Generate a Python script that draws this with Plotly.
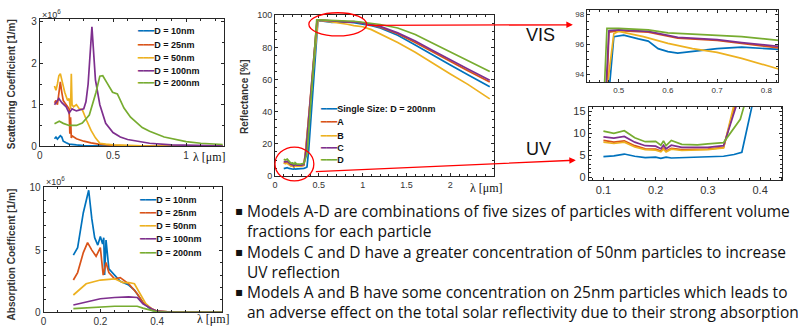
import plotly.graph_objects as go

W, H = 798, 332

# ---------------- data ----------------
colors5 = ["#0072BD", "#D95319", "#EDB120", "#7E2F8E", "#77AC30"]
size_labels = ["D = 10nm", "D = 25nm", "D = 50nm", "D = 100nm", "D = 200nm"]
model_labels = ["Single Size: D = 200nm", "A", "B", "C", "D"]

# Scattering coefficient (units of 1e6 1/m)
sca_x_10 = [0.10, 0.11, 0.12, 0.13, 0.14, 0.15, 0.16, 0.18, 0.20, 0.25, 0.30, 0.40, 0.60, 1.25]
sca_y_10 = [0.18, 0.22, 0.17, 0.20, 0.25, 0.22, 0.12, 0.08, 0.05, 0.03, 0.015, 0.008, 0.003, 0.0]
sca_x_25 = [0.10, 0.11, 0.12, 0.13, 0.14, 0.15, 0.16, 0.17, 0.18, 0.19, 0.20, 0.205, 0.21, 0.215, 0.22, 0.25, 0.30, 0.35, 0.40, 0.50, 0.60, 1.25]
sca_y_25 = [1.05, 1.10, 1.00, 1.30, 1.55, 1.30, 1.10, 1.05, 1.00, 0.95, 0.90, 0.30, 0.70, 0.20, 0.25, 0.18, 0.12, 0.08, 0.05, 0.02, 0.01, 0.002]
sca_x_50 = [0.10, 0.11, 0.12, 0.13, 0.14, 0.15, 0.16, 0.17, 0.18, 0.19, 0.20, 0.21, 0.215, 0.22, 0.23, 0.25, 0.27, 0.29, 0.32, 0.35, 0.38, 0.41, 0.45, 0.50, 0.70, 1.25]
sca_y_50 = [1.45, 1.35, 1.50, 1.70, 1.75, 1.60, 1.40, 1.30, 1.20, 1.10, 1.15, 0.90, 1.75, 1.00, 0.95, 1.00, 0.90, 0.88, 0.62, 0.38, 0.20, 0.07, 0.05, 0.03, 0.01, 0.002]
sca_x_100 = [0.10, 0.12, 0.13, 0.15, 0.18, 0.20, 0.22, 0.25, 0.28, 0.30, 0.315, 0.33, 0.356, 0.38, 0.41, 0.45, 0.50, 0.55, 0.60, 0.66, 0.75, 0.90, 1.05, 1.25]
sca_y_100 = [1.00, 1.10, 1.15, 1.05, 0.95, 0.80, 0.90, 0.85, 0.88, 0.90, 1.07, 1.50, 2.88, 1.60, 1.00, 0.55, 0.33, 0.22, 0.16, 0.12, 0.07, 0.03, 0.015, 0.008]
sca_x_200 = [0.10, 0.133, 0.16, 0.20, 0.25, 0.29, 0.338, 0.384, 0.41, 0.43, 0.46, 0.497, 0.53, 0.575, 0.62, 0.65, 0.70, 0.75, 0.85, 1.00, 1.10, 1.25]
sca_y_200 = [0.54, 0.60, 0.55, 0.50, 0.50, 0.56, 0.75, 1.30, 1.69, 1.70, 1.52, 1.30, 1.26, 0.92, 0.70, 0.60, 0.45, 0.36, 0.22, 0.11, 0.07, 0.04]

# Absorption coefficient (units of 1e6 1/m)
abs_x_10 = [0.105, 0.12, 0.14, 0.159, 0.17, 0.18, 0.191, 0.20, 0.208, 0.212, 0.215, 0.22, 0.23, 0.25, 0.27, 0.30, 0.32, 0.35, 0.38, 0.40, 0.50, 0.63]
abs_y_10 = [4.6, 5.2, 8.0, 9.8, 7.5, 6.0, 5.4, 6.1, 5.5, 6.0, 3.0, 5.8, 3.5, 3.0, 2.5, 2.2, 1.8, 0.8, 0.2, 0.05, 0.0, 0.0]
abs_x_25 = [0.105, 0.12, 0.14, 0.155, 0.17, 0.185, 0.20, 0.21, 0.22, 0.23, 0.25, 0.27, 0.30, 0.33, 0.35, 0.38, 0.40, 0.45, 0.63]
abs_y_25 = [2.6, 3.2, 4.8, 5.6, 5.0, 4.5, 5.2, 3.0, 4.0, 3.2, 2.7, 2.8, 2.3, 1.5, 0.8, 0.3, 0.1, 0.02, 0.0]
abs_x_50 = [0.105, 0.12, 0.15, 0.20, 0.25, 0.28, 0.30, 0.32, 0.34, 0.36, 0.38, 0.40, 0.45, 0.63]
abs_y_50 = [1.4, 1.7, 2.3, 2.6, 2.7, 2.4, 2.4, 2.3, 1.5, 0.7, 0.3, 0.1, 0.02, 0.0]
abs_x_100 = [0.105, 0.15, 0.20, 0.25, 0.30, 0.33, 0.35, 0.38, 0.40, 0.45, 0.63]
abs_y_100 = [0.6, 0.85, 1.1, 1.2, 1.25, 1.2, 0.7, 0.3, 0.1, 0.02, 0.0]
abs_x_200 = [0.105, 0.15, 0.20, 0.25, 0.30, 0.33, 0.35, 0.38, 0.40, 0.45, 0.63]
abs_y_200 = [0.3, 0.35, 0.45, 0.5, 0.5, 0.5, 0.35, 0.15, 0.05, 0.01, 0.0]

# Reflectance [%]
uv_x = [0.10, 0.12, 0.14, 0.16, 0.18, 0.20, 0.21, 0.215, 0.22, 0.23, 0.25, 0.30, 0.33]
ref_x_single = uv_x[:6] + [0.21, 0.22, 0.23, 0.26, 0.30, 0.33, 0.35, 0.365, 0.385, 0.478, 0.49, 0.51, 0.54, 0.56, 0.58, 0.60, 0.62, 0.65, 0.70, 0.75, 0.825, 0.9, 1.0, 1.1, 1.2, 1.4, 1.6, 1.8, 2.0, 2.2, 2.45]
ref_y_single = [4.7, 4.9, 5.3, 4.8, 4.5, 4.6, 4.3, 4.6, 4.4, 4.5, 4.6, 4.8, 5.2, 5.7, 16.5, 92.0, 96.5, 96.6, 96.35, 96.2, 95.7, 95.5, 95.4, 95.5, 95.7, 95.8, 95.65, 95.3, 94.5, 93.5, 92.0, 87.5, 81.5, 75.0, 69.0, 63.0, 55.5]
ref_x_A = uv_x + [0.352, 0.476, 0.48, 0.50, 0.56, 0.62, 0.70, 0.75, 0.825, 0.9, 1.0, 1.1, 1.2, 1.4, 1.6, 1.8, 2.0, 2.2, 2.45]
ref_y_A = [8.4, 8.0, 8.3, 7.2, 6.5, 6.4, 6.0, 6.6, 6.0, 6.6, 6.3, 6.4, 6.8, 16.5, 93.0, 96.8, 96.9, 96.8, 96.4, 96.25, 96.05, 95.75, 95.9, 95.0, 94.0, 92.5, 88.5, 83.0, 77.0, 71.0, 65.5, 58.5]
ref_x_B = uv_x + [0.35, 0.476, 0.49, 0.50, 0.55, 0.60, 0.65, 0.70, 0.75, 0.80, 0.825, 0.9, 1.0, 1.1, 1.2, 1.4, 1.6, 1.8, 2.0, 2.2, 2.45]
ref_y_B = [8.0, 7.7, 8.0, 6.9, 6.3, 6.2, 5.8, 6.4, 5.8, 6.4, 6.1, 6.3, 6.7, 16.5, 93.0, 96.7, 96.85, 96.5, 96.05, 95.7, 95.45, 95.05, 94.6, 94.35, 93.5, 92.8, 91.0, 88.5, 83.0, 77.0, 70.0, 63.5, 57.0, 48.0]
ref_x_C = uv_x + [0.355, 0.475, 0.48, 0.50, 0.56, 0.62, 0.70, 0.75, 0.825, 0.9, 1.0, 1.1, 1.2, 1.4, 1.6, 1.8, 2.0, 2.2, 2.45]
ref_y_C = [9.2, 8.9, 9.3, 8.0, 7.2, 7.1, 6.5, 7.3, 6.5, 7.3, 6.8, 6.8, 7.2, 16.5, 93.0, 96.9, 96.95, 96.85, 96.45, 96.3, 96.1, 95.85, 96.0, 95.2, 94.3, 93.0, 89.0, 84.0, 78.0, 72.0, 66.5, 59.5]
ref_x_D = uv_x[:11] + [0.28, 0.30, 0.33, 0.362, 0.37, 0.472, 0.476, 0.50, 0.56, 0.60, 0.70, 0.75, 0.825, 0.9, 1.0, 1.1, 1.2, 1.4, 1.6, 1.8, 2.0, 2.2, 2.45]
ref_y_D = [10.5, 10.0, 10.6, 9.0, 8.1, 8.2, 7.3, 8.3, 7.2, 8.4, 7.5, 7.4, 7.6, 7.9, 13.2, 16.5, 93.5, 97.05, 97.05, 96.95, 96.75, 96.6, 96.5, 96.25, 96.2, 95.6, 95.0, 94.2, 92.0, 88.0, 82.5, 77.0, 71.5, 65.0]

sca_series = [(sca_x_10, sca_y_10), (sca_x_25, sca_y_25), (sca_x_50, sca_y_50), (sca_x_100, sca_y_100), (sca_x_200, sca_y_200)]
abs_series = [(abs_x_10, abs_y_10), (abs_x_25, abs_y_25), (abs_x_50, abs_y_50), (abs_x_100, abs_y_100), (abs_x_200, abs_y_200)]
ref_series = [(ref_x_single, ref_y_single), (ref_x_A, ref_y_A), (ref_x_B, ref_y_B), (ref_x_C, ref_y_C), (ref_x_D, ref_y_D)]

bullets = [
    ("Models A-D are combinations of five sizes of particles with different volume", True),
    ("fractions for each particle", False),
    ("Models C and D have a greater concentration of 50nm particles to increase", True),
    ("UV reflection", False),
    ("Models A and B have some concentration on 25nm particles which leads to", True),
    ("an adverse effect on the total solar reflectivity due to their strong absorption", False),
]

# ---------------- helpers ----------------
def xd(l, r):
    return [l / W, r / W]

def yd(t, b):
    return [1 - b / H, 1 - t / H]

def px(x):
    return x / W

def py(y):
    return 1 - y / H

fig = go.Figure()

panels = [
    ("sca", "x", "y", sca_series, xd(37, 222), yd(14, 146), [0, 1.26], [0, 3.08], [0, 0.5, 1], [0, 1, 2, 3], 10),
    ("abs", "x2", "y2", abs_series, xd(40.7, 220), yd(188, 318), [0, 0.629], [0, 10.08], [0, 0.2, 0.4], [0, 5, 10], 10),
    ("ref", "x3", "y3", ref_series, xd(273, 493), yd(10.5, 177), [0, 2.5], [0, 100], [0, 0.5, 1, 1.5, 2], [0, 20, 40, 60, 80, 100], 9),
    ("vis", "x4", "y4", ref_series, xd(586, 778), yd(5, 80), [0.435, 0.824], [93.46, 98.28], [0.5, 0.6, 0.7, 0.8], [94, 96, 98], 8),
    ("uv", "x5", "y5", ref_series, xd(588, 782), yd(105, 181), [0.072, 0.442], [-0.6, 16.1], [0.1, 0.2, 0.3, 0.4], [0, 5, 10, 15], 11),
]

minor_dt = {"sca": (0.1, 0.5), "abs": (0.05, 1), "ref": (0.1, 5), "vis": (0.02, 0.5), "uv": (0.02, 1)}

for name, xa, ya, series, xdom, ydom, xr, yr, xt, yt, fs in panels:
    for (xs, ys), c in zip(series, colors5):
        fig.add_trace(go.Scatter(x=xs, y=ys, mode="lines", line=dict(color=c, width=1.7),
                                 xaxis=xa, yaxis=ya, showlegend=False, hoverinfo="skip"))
    xk = "xaxis" if xa == "x" else "xaxis" + xa[1:]
    yk = "yaxis" if ya == "y" else "yaxis" + ya[1:]
    mdx, mdy = minor_dt[name]
    common = dict(showline=True, linecolor="#262626", linewidth=1, mirror="ticks", ticks="inside",
                  ticklen=3, tickcolor="#262626", showgrid=False, zeroline=False,
                  tickfont=dict(family="Liberation Sans", size=fs, color="#333333"))
    fig.update_layout(**{
        xk: dict(domain=xdom, range=xr, tickvals=xt, anchor=ya,
                 minor=dict(ticks="inside", ticklen=2, dtick=mdx, tickcolor="#262626"), **common),
        yk: dict(domain=ydom, range=yr, tickvals=yt, anchor=xa,
                 minor=dict(ticks="inside", ticklen=2, dtick=mdy, tickcolor="#262626"), **common),
    })

ann = []
def add_text(x, y, text, size=10, family="Liberation Sans", color="#222222", xanchor="left",
             yanchor="middle", textangle=0, bold=False):
    t = "<b>" + text + "</b>" if bold else text
    ann.append(dict(x=px(x), y=py(y), xref="paper", yref="paper", text=t, showarrow=False,
                    xanchor=xanchor, yanchor=yanchor, textangle=textangle,
                    font=dict(family=family, size=size, color=color)))

# axis titles
add_text(8, 82, "Scattering Coefficient [1/m]", size=10, xanchor="center", textangle=-90, bold=True, color="#333333")
add_text(8, 258, "Absorption Coefficent [1/m]", size=10, xanchor="center", textangle=-90, bold=True, color="#333333")
add_text(243, 95, "Reflectance [%]", size=10, xanchor="center", textangle=-90, bold=True, color="#333333")
# exponent labels
add_text(37, 9, "×10<sup>6</sup>", size=9, color="#333333")
add_text(41, 182, "×10<sup>6</sup>", size=9, color="#333333")
# lambda labels
add_text(189, 157, "λ [μm]", size=12, family="Liberation Serif", color="#111111")
add_text(193, 325, "λ [μm]", size=12, family="Liberation Serif", color="#111111")
add_text(467, 189, "λ [μm]", size=12, family="Liberation Serif", color="#111111")
# VIS / UV
add_text(523, 31, "VIS", size=18, family="Liberation Sans", color="#111111")
add_text(523, 149, "UV", size=18, family="Liberation Sans", color="#111111")

# legends (text-based)
def legend(x0, ys, labels, size):
    for yy, lab, c in zip(ys, labels, colors5):
        ann.append(dict(x=px(x0), y=py(yy), xref="paper", yref="paper", showarrow=False,
                        xanchor="left", yanchor="middle",
                        text="<span style='color:%s'>━━━</span><b>%s</b>" % (c, lab),
                        font=dict(family="Liberation Sans, DejaVu Sans", size=size, color="#111111")))

legend(132, [27, 41.5, 54.5, 68, 81], size_labels, 9)
legend(135, [202, 215, 229, 242, 256], size_labels, 9)
legend(316, [108, 121.5, 135, 148, 160.5], model_labels, 9)

# red arrows
ann.append(dict(x=px(572), y=py(20.5), xref="paper", yref="paper", ax=-208, ay=0.5, showarrow=True,
                arrowhead=2, arrowsize=1, arrowwidth=1.3, arrowcolor="#FF0000", text=" "))
ann.append(dict(x=px(575), y=py(160.5), xref="paper", yref="paper", ax=-263, ay=11.5, showarrow=True,
                arrowhead=2, arrowsize=1, arrowwidth=1.3, arrowcolor="#FF0000", text=" "))

# bullet text
line_y = [213, 234, 255, 276, 297, 318]
for (txt, has_bullet), yy in zip(bullets, line_y):
    if has_bullet:
        add_text(231, yy, "▪", size=12, family="DejaVu Sans", color="#111111")
    add_text(243, yy, txt, size=15.5, family="Open Sans", color="#111111")

shapes = [
    dict(type="circle", xref="paper", yref="paper", x0=px(307), x1=px(365), y0=py(8), y1=py(32),
         line=dict(color="#FF0000", width=1.3)),
    dict(type="circle", xref="paper", yref="paper", x0=px(273), x1=px(312), y0=py(147), y1=py(182),
         line=dict(color="#FF0000", width=1.3)),
]

fig.update_layout(width=W, height=H, margin=dict(l=0, r=0, t=0, b=0), paper_bgcolor="white",
                  plot_bgcolor="white", annotations=ann, shapes=shapes, showlegend=False)

fig.write_html("out.html", config={"displayModeBar": False},
               post_script="document.body.style.margin='0';document.body.style.overflow='hidden';")
